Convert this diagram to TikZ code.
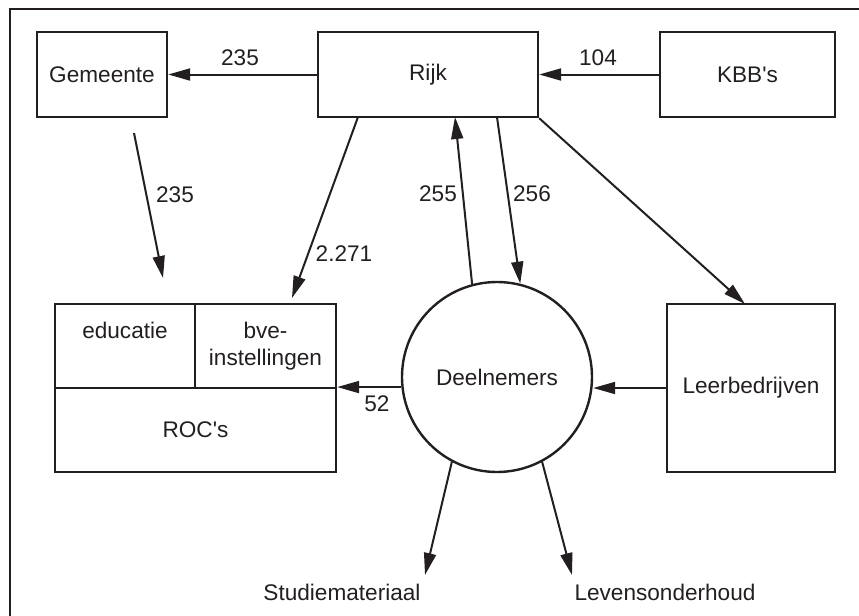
\documentclass[tikz,border=0pt]{standalone}
\usepackage{fontspec}
\setmainfont{Liberation Sans}
\usetikzlibrary{arrows.meta}
\definecolor{ink}{RGB}{35,31,32}
\tikzset{box/.style={draw=ink, line width=1.2pt, inner sep=0pt, align=center},
 flow/.style={draw=ink, line width=1pt, -{Triangle[length=11pt,width=6pt]}},
 amount/.style={inner sep=0pt},
 }

\begin{document}
\begin{tikzpicture}[x=0.5pt, y=-0.5pt, font=\fontsize{11.3}{13.6}\selectfont, text=ink]
        \useasboundingbox (0,0) rectangle (859,616);
        \draw[ink, line width=1.4pt] (10,616) -- (10,9) -- (859,9);
        \node[box, minimum width=65pt, minimum height=42.5pt] (gem) at (102,74.5) {Gemeente};
        \node[box, minimum width=110pt, minimum height=42.5pt] (rijk) at (428,74.5) {Rijk};
        \node[box, minimum width=87.5pt, minimum height=42.5pt] (kbb) at (747.5,74.5) {KBB\textquotesingle s};
        \node[box, minimum width=70pt, minimum height=42pt] (educ) at (125,346) {educatie\\\phantom{instellingen}};
        \node[box, minimum width=70.5pt, minimum height=42pt] (bve) at (265.5,346) {bve-\\instellingen};
        \node[box, minimum width=140.5pt, minimum height=42pt] (roc) at (195.5,430) {ROC\textquotesingle s};
        \node[box, circle, minimum size=95pt] (dn) at (497,377) {Deelnemers};
        \node[box, minimum width=84pt, minimum height=84pt] (lb) at (751,388) {Leerbedrijven};
        \node[amount] (stud) at (342,592) {Studiemateriaal};
        \node[amount] (lev) at (665,592) {Levensonderhoud};

        \coordinate (gemout) at (134,133);
        \coordinate (rocin) at (163,278);
        \coordinate (rijkout) at (358,117);
        \coordinate (bvein) at (292,298);
        \coordinate (rijkin) at (455,117);
        \coordinate (rijkdown) at (497,117);
        \coordinate (lbin) at (745,304);
        \coordinate (studin) at (425,575);
        \coordinate (levin) at (572,575);

        \draw[flow] (rijk) -- (gem);
        \draw[flow] (kbb) -- (rijk);
        \draw[flow] (gemout) -- (rocin);
        \draw[flow] (rijkout) -- (bvein);
        \draw[flow] (dn.105.3) -- (rijkin);
        \draw[flow] (rijkdown) -- (dn.76);
        \draw[flow] (rijk.south east) -- (lbin);
        \draw[flow] (lb.west) -- (lb.west -| dn.east);
        \draw[flow] (dn.186.6) -- (dn.186.6 -| bve.east);
        \draw[flow] (dn.242.6) -- (studin);
        \draw[flow] (dn.298.2) -- (levin);

        \node[amount] (l235a) at (240,58) {235};
        \node[amount] (l104) at (598,58) {104};
        \node[amount] (l235b) at (175,195) {235};
        \node[amount] (l2271) at (344,254) {2.271};
        \node[amount] (l255) at (438,194) {255};
        \node[amount] (l256) at (532,194) {256};
        \node[amount] (l52) at (377,404) {52};
    \end{tikzpicture}
\end{document}
